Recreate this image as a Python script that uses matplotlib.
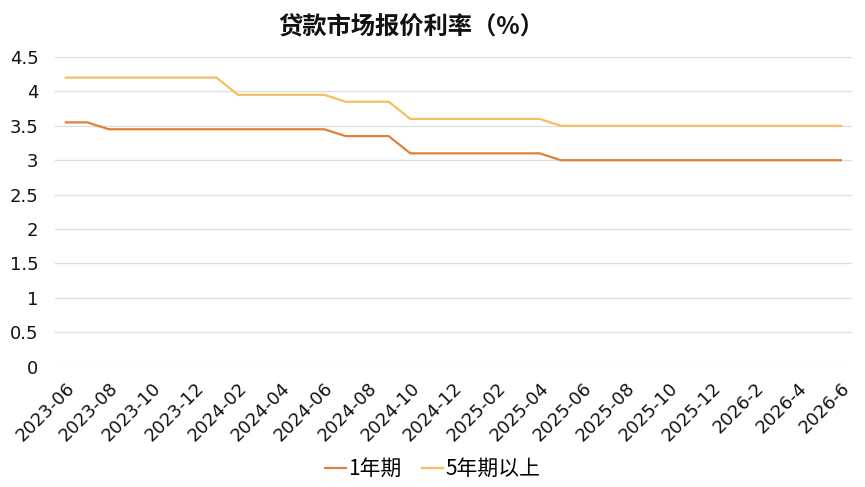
import matplotlib
matplotlib.use('Agg')
import matplotlib.pyplot as plt

plt.rcParams['font.family'] = ['Noto Sans CJK SC', 'DejaVu Sans']

# Monthly LPR, 2023-06 .. 2026-06
months = [
    '2023-06', '2023-07', '2023-08', '2023-09', '2023-10', '2023-11',
    '2023-12', '2024-01', '2024-02', '2024-03', '2024-04', '2024-05',
    '2024-06', '2024-07', '2024-08', '2024-09', '2024-10', '2024-11',
    '2024-12', '2025-01', '2025-02', '2025-03', '2025-04', '2025-05',
    '2025-06', '2025-07', '2025-08', '2025-09', '2025-10', '2025-11',
    '2025-12', '2026-1', '2026-2', '2026-3', '2026-4', '2026-5', '2026-6']
lpr_1y = [3.55, 3.55, 3.45, 3.45, 3.45, 3.45, 3.45, 3.45, 3.45, 3.45,
          3.45, 3.45, 3.45, 3.35, 3.35, 3.35, 3.10, 3.10, 3.10, 3.10,
          3.10, 3.10, 3.10, 3.00, 3.00, 3.00, 3.00, 3.00, 3.00, 3.00,
          3.00, 3.00, 3.00, 3.00, 3.00, 3.00, 3.00]
lpr_5y = [4.20, 4.20, 4.20, 4.20, 4.20, 4.20, 4.20, 4.20, 3.95, 3.95,
          3.95, 3.95, 3.95, 3.85, 3.85, 3.85, 3.60, 3.60, 3.60, 3.60,
          3.60, 3.60, 3.60, 3.50, 3.50, 3.50, 3.50, 3.50, 3.50, 3.50,
          3.50, 3.50, 3.50, 3.50, 3.50, 3.50, 3.50]
y_ticks = [0, 0.5, 1, 1.5, 2, 2.5, 3, 3.5, 4, 4.5]

fig = plt.figure(figsize=(8.65, 4.87), dpi=100)
ax = fig.add_axes([0.0636, 0.247, 0.921, 0.636])

x = list(range(len(months)))
ax.plot(x, lpr_1y, color='#E0803A', lw=1.6, label='1年期')
ax.plot(x, lpr_5y, color='#F6BE64', lw=1.6, label='5年期以上')

ax.set_xlim(-0.5, len(months) - 0.5)
ax.set_ylim(0, 4.5)
ax.set_yticks(y_ticks)
ax.set_yticklabels([f'{v:g}' for v in y_ticks], fontsize=13,
                   family='DejaVu Sans')
ax.set_xticks(x[::2])
ax.set_xticklabels(months[::2], fontsize=13, rotation=45, family='DejaVu Sans',
                   ha='right', va='top', rotation_mode='anchor')
ax.tick_params(axis='both', length=0, colors='#111111')
ax.tick_params(axis='y', pad=12)
ax.tick_params(axis='x', pad=9)
ax.grid(axis='y', color='#dedede', lw=0.9)
ax.set_axisbelow(True)
for s in ax.spines.values():
    s.set_visible(False)

fig.text(0.475, 0.943, '贷款市场报价利率（%）', ha='center', va='center',
         fontsize=17.5, fontweight='bold', color='#111111')

fig.legend(loc='center', bbox_to_anchor=(0.5, 0.037), ncol=2, frameon=False,
           fontsize=15, handlelength=1.0, handletextpad=0.1,
           columnspacing=1.0)

fig.savefig('out.png', dpi=100, facecolor='white')
